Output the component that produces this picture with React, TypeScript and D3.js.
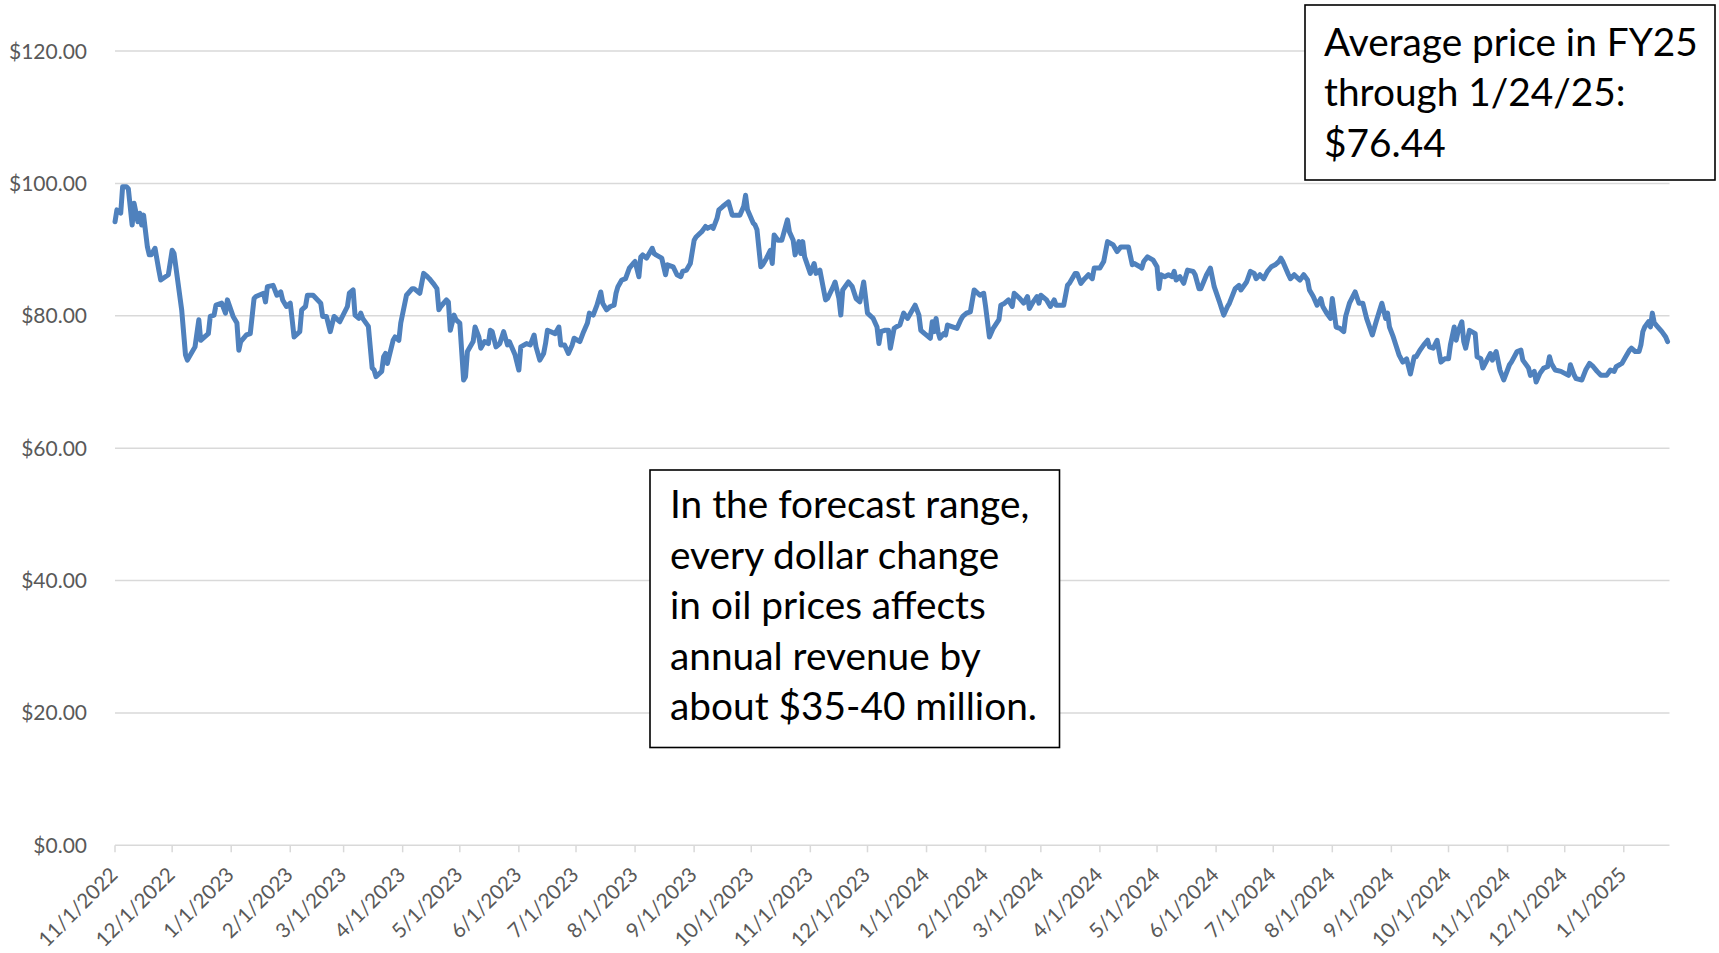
import React from "react";
import * as d3 from "d3";

// ---- Data ----
// Days since 11/1/2022 for each sampled observation
const dayOffsets = [
  0, 1, 3, 4, 6, 7, 9, 10, 12, 13, 14, 15, 17, 18, 19, 21, 23, 24, 28, 30, 31, 35, 37, 38, 42, 44, 45, 49, 50, 52, 53, 56, 58, 59, 62, 64, 65, 66, 69, 71, 73, 74, 78, 79, 80, 83, 85, 87, 88, 90, 92, 93, 94, 97, 98, 100, 101, 104, 108, 109, 111, 113, 115, 118, 122, 123, 125, 126, 128, 129, 130, 133, 135, 136, 137, 140, 141, 142, 143, 146, 147, 149, 150, 153, 156, 157, 160, 162, 164, 165, 167, 169, 170, 171, 174, 175, 176, 178, 179, 181, 183, 184, 185, 188, 189, 191, 192, 194, 196, 197, 198, 200, 202, 204, 206, 207, 210,
  212, 213, 216, 218, 220, 221, 223, 225, 226, 227, 231, 233, 234, 236, 238, 240, 241, 244, 246, 248, 249, 251, 253, 255, 256, 258, 260, 262, 263, 264, 266, 268, 269, 270, 272, 273, 275, 276, 277, 279, 282, 283, 284, 287, 289, 290, 293, 295, 297, 298, 300, 302, 304, 305, 308, 310, 311, 313, 314, 316, 317, 319, 322, 324, 325, 328, 330, 331, 332, 335, 336, 337, 339, 340, 342, 344, 345, 346, 348, 350, 353, 354, 356, 357, 359, 360, 361, 362, 365, 367, 368, 370, 373, 374, 377, 378, 380, 381, 382, 385, 387, 389, 391, 393, 395, 398, 400, 401, 402, 404, 406, 407, 409, 410,
  412, 414, 416, 420, 422, 423, 425, 428, 429, 430, 431, 432, 433, 435, 436, 437, 440, 442, 444, 445, 447, 449, 451, 454, 456, 457, 459, 461, 464, 465, 467, 469, 471, 472, 475, 477, 479, 480, 482, 484, 485, 486, 489, 491, 493, 494, 498, 500, 501, 504, 505, 507, 509, 511, 513, 514, 517, 519, 521, 524, 526, 528, 529, 532, 534, 535, 538, 539, 540, 542, 545, 547, 548, 549, 551, 553, 555, 556, 557, 559, 561, 563, 566, 567, 569, 570, 573, 575, 577, 580, 582, 584, 585, 588, 590, 591, 594, 596, 598, 599, 601, 603, 605, 607, 609, 611, 612, 613, 616, 617, 619, 620,
  622, 624, 626, 627, 629, 631, 633, 634, 636, 638, 639, 641, 643, 645, 646, 648, 651, 653, 655, 657, 660, 662, 665, 667, 668, 669, 671, 674, 676, 678, 680, 682, 683, 685, 687, 689, 690, 692, 694, 696, 698, 700, 701, 703, 704, 705, 707, 708, 709, 711, 714, 715, 717, 718, 722, 723, 725, 727, 729, 732, 733, 736, 738, 739, 742, 743, 745, 746, 748, 750, 752, 753, 754, 756, 759, 761, 763, 764, 766, 767, 770, 772, 774, 776, 778, 780, 781, 783, 785, 787, 788, 791, 793, 795, 796, 798, 800, 801, 802, 803, 805, 806, 807, 808, 809, 812, 814, 815,
];

// Oil price, $ per barrel
const prices = [
  94.2, 96.0, 95.5, 99.5, 99.5, 99.2, 93.7, 97.0, 94.2, 95.5, 93.7, 95.2, 90.4, 89.2, 89.2, 90.2, 86.9, 85.4, 86.2, 89.9, 89.4, 80.9, 74.1, 73.3, 75.3, 79.4, 76.3, 77.3, 79.9, 80.1, 81.6, 81.9, 80.4, 82.4, 79.9, 78.9, 74.8, 76.1, 77.1, 77.3, 82.6, 82.9, 83.4, 82.1, 84.4, 84.6, 83.1, 83.6, 82.4, 81.4, 81.9, 79.4, 76.8, 77.6, 80.9, 81.4, 83.1, 83.1, 81.9, 79.9, 79.9, 77.6, 79.9, 79.1, 81.4, 83.4, 83.9, 80.1, 79.6, 80.4, 79.6, 78.4, 72.1, 71.8, 70.8, 71.6, 73.8, 74.3, 72.8, 76.3, 76.8, 76.3, 78.9, 83.1, 84.1, 84.1, 83.4, 86.4, 85.9, 85.6, 84.9, 84.1, 80.9, 81.4, 82.4, 82.1, 77.8, 80.1, 79.4, 78.9, 70.3, 70.8, 74.6, 76.1, 78.3, 76.8, 75.1, 76.1, 75.8, 77.8, 77.6, 75.3, 75.8, 77.6, 75.6, 76.1, 74.1,
  71.8, 75.3, 75.8, 75.6, 77.1, 75.3, 73.3, 74.3, 75.8, 77.8, 77.3, 78.3, 75.6, 75.6, 74.3, 75.6, 76.6, 76.1, 77.6, 78.9, 80.4, 80.1, 81.6, 83.6, 81.9, 80.9, 81.4, 81.6, 83.4, 84.4, 85.4, 85.6, 86.4, 87.2, 87.9, 88.2, 85.9, 88.9, 89.2, 88.7, 90.2, 89.4, 89.2, 88.7, 86.2, 87.7, 87.4, 86.2, 85.9, 86.7, 86.9, 87.9, 91.4, 91.9, 92.7, 93.5, 93.2, 93.5, 93.2, 94.7, 96.0, 96.5, 97.2, 95.2, 95.2, 95.2, 96.5, 98.2, 96.0, 94.0, 93.7, 93.0, 87.4, 87.7, 88.7, 89.9, 87.9, 92.2, 91.4, 91.4, 94.5, 92.7, 91.4, 89.2, 91.2, 89.4, 91.2, 88.9, 86.4, 87.9, 86.4, 86.9, 82.4, 82.6, 84.4, 85.1, 82.6, 80.1, 83.9, 85.1, 84.4, 82.6, 82.1, 85.1, 80.4, 79.6, 78.3, 75.8, 77.6, 77.8, 77.8, 75.1, 78.1, 78.3,
  78.6, 80.4, 79.6, 81.6, 80.1, 77.8, 77.3, 76.6, 79.1, 77.6, 79.6, 77.6, 76.6, 77.3, 77.1, 78.6, 78.3, 78.1, 79.4, 79.9, 80.4, 80.6, 83.9, 83.1, 83.4, 81.4, 76.8, 78.1, 79.4, 81.6, 81.9, 82.4, 81.4, 83.4, 82.6, 81.9, 82.9, 81.1, 82.1, 82.9, 81.9, 83.1, 82.4, 81.4, 82.4, 81.6, 81.6, 84.6, 84.9, 86.4, 86.4, 84.9, 85.6, 86.2, 85.6, 87.2, 87.2, 88.2, 91.2, 90.7, 89.7, 90.4, 90.4, 90.4, 87.7, 87.9, 87.4, 87.2, 88.2, 88.9, 88.4, 87.4, 84.1, 86.2, 85.9, 86.2, 85.9, 86.7, 85.4, 85.9, 84.9, 86.9, 86.7, 86.2, 84.1, 84.1, 86.2, 87.2, 84.4, 81.9, 80.1, 81.4, 81.9, 84.1, 84.6, 83.9, 85.1, 86.7, 86.4, 85.6, 86.2, 85.6, 86.7, 87.4, 87.7, 88.2, 88.7, 88.2, 86.2, 85.6, 86.2, 85.9,
  85.4, 86.2, 85.4, 83.9, 82.9, 81.6, 82.6, 81.4, 80.4, 79.6, 82.6, 78.3, 78.1, 77.6, 79.9, 81.9, 83.6, 81.9, 81.9, 79.6, 77.1, 79.1, 81.9, 79.6, 80.4, 78.3, 76.8, 74.1, 73.0, 73.5, 71.2, 73.8, 73.8, 74.8, 75.6, 76.3, 75.3, 75.1, 76.3, 73.0, 73.5, 73.5, 75.6, 78.3, 76.3, 77.6, 79.1, 76.1, 75.1, 77.8, 77.3, 73.8, 73.5, 72.1, 74.3, 73.3, 74.6, 71.8, 70.3, 72.6, 73.0, 74.6, 74.8, 73.3, 72.1, 71.0, 71.6, 70.0, 71.3, 72.1, 72.3, 73.8, 72.8, 71.8, 71.6, 71.3, 71.0, 72.6, 71.0, 70.5, 70.3, 71.8, 72.8, 72.3, 71.6, 71.0, 71.0, 71.0, 71.8, 71.6, 72.3, 72.8, 73.8, 74.8, 75.1, 74.6, 74.6, 75.6, 77.6, 78.3, 79.1, 78.3, 80.4, 78.9, 78.6, 77.6, 76.8, 76.1,
];

const yTicks = [0, 20, 40, 60, 80, 100, 120];

const noteTop = ["Average price in FY25", "through 1/24/25:", "$76.44"];
const noteBottom = [
  "In the forecast range,",
  "every dollar change",
  "in oil prices affects",
  "annual revenue by",
  "about $35-40 million.",
];

const W = 1719;
const H = 953;
const FONT = "Lato, 'Open Sans', sans-serif";

const startDate = new Date(Date.UTC(2022, 10, 1));
const endDate = new Date(Date.UTC(2025, 0, 25));

export default function App() {
  const x = d3.scaleUtc().domain([startDate, endDate]).range([115, 1669.5]);
  const y = d3.scaleLinear().domain([0, 120]).range([845.3, 51]);

  const data = dayOffsets.map((d, i) => ({
    date: d3.utcDay.offset(startDate, d),
    value: prices[i],
  }));

  const line = d3
    .line<{ date: Date; value: number }>()
    .x((d) => x(d.date))
    .y((d) => y(d.value));

  const monthTicks = d3.utcMonth.range(startDate, new Date(Date.UTC(2025, 0, 2)));
  const fmt = (d: Date) =>
    `${d.getUTCMonth() + 1}/${d.getUTCDate()}/${d.getUTCFullYear()}`;

  const [x0, x1] = x.range();

  return (
    <svg
      width={W}
      height={H}
      style={{ position: "absolute", left: 0, top: 0, background: "#fff" }}
      fontFamily={FONT}
    >
      <rect x={0} y={0} width={W} height={H} fill="#fff" />
      {/* gridlines */}
      {yTicks.map((t) => (
        <line
          key={t}
          x1={x0}
          x2={x1}
          y1={y(t)}
          y2={y(t)}
          stroke="#D9D9D9"
          strokeWidth={1.5}
        />
      ))}
      {/* y labels */}
      {yTicks.map((t) => (
        <text
          key={"yl" + t}
          x={87}
          y={y(t)}
          dy="0.36em"
          textAnchor="end"
          fontSize={21}
          fill="#595959"
        >
          {"$" + t.toFixed(2)}
        </text>
      ))}
      {/* x ticks */}
      {monthTicks.map((d) => (
        <line
          key={"xt" + d.getTime()}
          x1={x(d)}
          x2={x(d)}
          y1={y(0)}
          y2={y(0) + 7}
          stroke="#D9D9D9"
          strokeWidth={1.5}
        />
      ))}
      {monthTicks.map((d) => (
        <text
          key={"xl" + d.getTime()}
          transform={`translate(${x(d) + 4},${876}) rotate(-45)`}
          textAnchor="end"
          fontSize={20.5}
          fill="#595959"
        >
          {fmt(d)}
        </text>
      ))}
      {/* price line */}
      <path
        d={line(data) || ""}
        fill="none"
        stroke="#4F81BD"
        strokeWidth={5}
        strokeLinejoin="round"
        strokeLinecap="round"
      />
      {/* top note */}
      <rect x={1305} y={5} width={410} height={175} fill="#fff" stroke="#000" strokeWidth={1.6} />
      {noteTop.map((s, i) => (
        <text key={"nt" + i} x={1324} y={55.5 + i * 50.8} fontSize={38.8} fill="#000">
          {s}
        </text>
      ))}
      {/* bottom note */}
      <rect x={650} y={470} width={409.5} height={277.5} fill="#fff" stroke="#000" strokeWidth={1.6} />
      {noteBottom.map((s, i) => (
        <text key={"nb" + i} x={670} y={518 + i * 50.5} fontSize={38.8} fill="#000">
          {s}
        </text>
      ))}
    </svg>
  );
}
